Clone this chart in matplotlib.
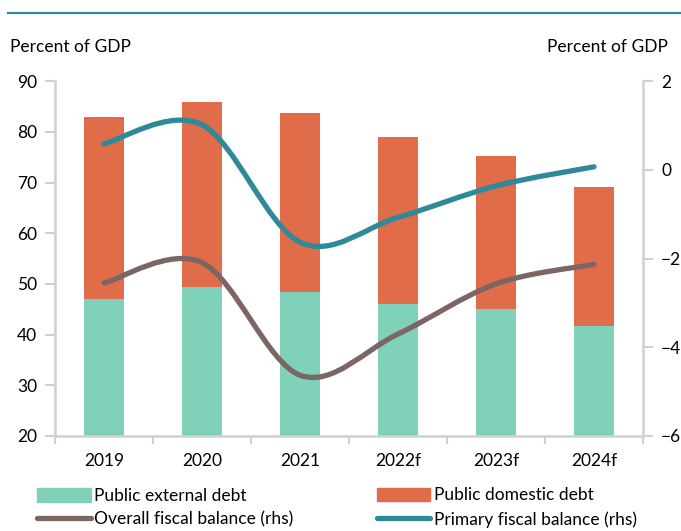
import numpy as np
import matplotlib
matplotlib.use('Agg')
import matplotlib.pyplot as plt
from matplotlib.path import Path
from matplotlib.patches import PathPatch, Patch
from matplotlib.lines import Line2D

# data
years = ['2019', '2020', '2021', '2022f', '2023f', '2024f']
external_debt = [47.0, 49.4, 48.4, 46.0, 45.0, 41.7]
total_debt = [83.0, 85.9, 83.8, 79.0, 75.2, 69.1]
domestic_debt = [t - e for t, e in zip(total_debt, external_debt)]
overall_balance = [-2.55, -2.09, -4.63, -3.70, -2.57, -2.13]
primary_balance = [0.59, 1.02, -1.63, -1.07, -0.36, 0.07]

c_ext = '#7fd1b9'
c_dom = '#e06c4a'
c_over = '#7b6663'
c_prim = '#2e8999'
c_axis = '#d0d0d0'

plt.rcParams['font.family'] = ['Lato', 'DejaVu Sans']
plt.rcParams['font.size'] = 12.5

fig = plt.figure(figsize=(6.81, 5.31), dpi=100)
ax1 = fig.add_axes([0.0808, 0.179, 0.8634, 0.668])
ax2 = ax1.twinx()

x = np.arange(len(years))
ax1.bar(x, external_debt, width=0.4, color=c_ext, zorder=2)
ax1.bar(x, domestic_debt, width=0.4, bottom=external_debt, color=c_dom, zorder=2)


def smooth_path(xs, ys):
    # Excel-like smoothed line (Catmull-Rom as cubic Bezier)
    pts = np.column_stack([xs, ys]).astype(float)
    n = len(pts)
    verts = [pts[0]]
    codes = [Path.MOVETO]
    for i in range(n - 1):
        p0 = pts[i - 1] if i > 0 else pts[i]
        p1 = pts[i]
        p2 = pts[i + 1]
        p3 = pts[i + 2] if i + 2 < n else pts[i + 1]
        verts += [p1 + (p2 - p0) / 6, p2 - (p3 - p1) / 6, p2]
        codes += [Path.CURVE4] * 3
    return Path(verts, codes)


for vals, col in [(overall_balance, c_over), (primary_balance, c_prim)]:
    ax2.add_patch(PathPatch(smooth_path(x, vals), facecolor='none', edgecolor=col,
                            lw=3.8, capstyle='round', joinstyle='round', zorder=3))

ax1.set_xlim(-0.5, 5.5)
ax1.set_ylim(20, 90)
ax2.set_ylim(-6, 2)
ax1.set_yticks(range(20, 91, 10))
ax2.set_yticks(range(-6, 3, 2))
ax1.set_xticks(x)
ax1.set_xticklabels(years)
ax1.set_xticks(np.arange(-0.5, 6, 1), minor=True)
ax1.tick_params(axis='x', which='major', length=0, pad=12)
ax1.tick_params(axis='x', which='minor', length=6, width=1.5, color=c_axis)
ax1.tick_params(axis='y', length=7, width=1.5, color=c_axis, pad=6)
ax2.tick_params(axis='y', length=7, width=1.5, color=c_axis, pad=6)

for ax in (ax1, ax2):
    for s in ax.spines.values():
        s.set_color(c_axis)
        s.set_linewidth(1.8)
    ax.spines['top'].set_visible(False)
ax1.spines['right'].set_visible(False)
ax2.spines['left'].set_visible(False)
ax2.spines['bottom'].set_visible(False)

fig.text(0.015, 0.912, 'Percent of GDP', ha='left', va='center')
fig.text(0.98, 0.912, 'Percent of GDP', ha='right', va='center')

# rule across the top
fig.add_artist(Line2D([0.012, 1.0], [0.976, 0.976], color=c_prim, lw=1.6))

left_handles = [Patch(color=c_ext, label='Public external debt'),
                Line2D([], [], color=c_over, lw=3.8, solid_capstyle='round',
                       label='Overall fiscal balance (rhs)')]
right_handles = [Patch(color=c_dom, label='Public domestic debt'),
                 Line2D([], [], color=c_prim, lw=3.8, solid_capstyle='round',
                        label='Primary fiscal balance (rhs)')]
leg_kw = dict(loc='lower left', frameon=False, handlelength=3.1, handleheight=0.85,
              handletextpad=0.2, labelspacing=0.45, borderaxespad=0, borderpad=0)
leg1 = fig.legend(handles=left_handles, bbox_to_anchor=(0.054, 0.006), **leg_kw)
fig.legend(handles=right_handles, bbox_to_anchor=(0.553, 0.006), **leg_kw)

fig.savefig('out.png', dpi=100)
